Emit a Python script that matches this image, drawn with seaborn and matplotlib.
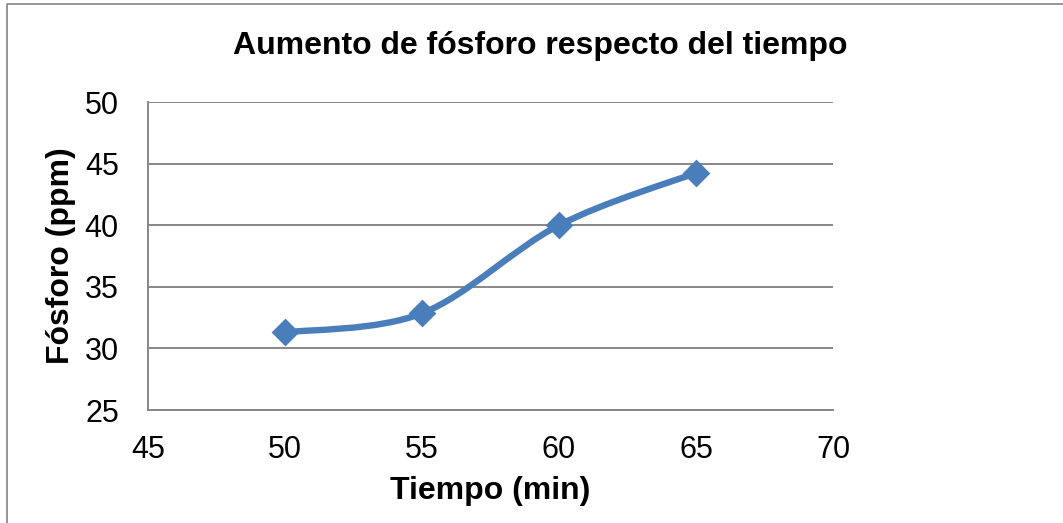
import numpy as np
import pandas as pd
import seaborn as sns
import matplotlib
matplotlib.use("Agg")
import matplotlib.pyplot as plt
from matplotlib.path import Path
from matplotlib.patches import PathPatch
from matplotlib.lines import Line2D

# Data
tiempo = [50, 55, 60, 65]
fosforo = [31.3, 32.85, 40.0, 44.25]
x_ticks = [45, 50, 55, 60, 65, 70]
y_ticks = [25, 30, 35, 40, 45, 50]
title = "Aumento de fósforo respecto del tiempo"
xlabel = "Tiempo (min)"
ylabel = "Fósforo (ppm)"

df = pd.DataFrame({"t": tiempo, "p": fosforo})

sns.set_theme(style="white")
plt.rcParams["font.family"] = ["Liberation Sans", "DejaVu Sans"]
plt.rcParams["text.color"] = "black"
plt.rcParams["axes.labelcolor"] = "black"

W, H = 1063, 523
fig = plt.figure(figsize=(W / 100, H / 100), dpi=100)
ax = fig.add_axes([148 / W, (H - 410) / H, (833 - 148) / W, (410 - 102) / H])

color = "#4A7EBB"
grid_c = "#878787"

# Smooth (Excel-style) curve via cubic Bezier path through the data points
xs = np.array(tiempo, dtype=float)
ys = np.array(fosforo, dtype=float)
verts = [(xs[0], ys[0])]
codes = [Path.MOVETO]
n = len(xs)
tension = 1.0 / 6.0
for i in range(n - 1):
    x0, y0 = (xs[i - 1], ys[i - 1]) if i > 0 else (xs[i], ys[i])
    x1, y1 = xs[i], ys[i]
    x2, y2 = xs[i + 1], ys[i + 1]
    x3, y3 = (xs[i + 2], ys[i + 2]) if i + 2 < n else (xs[i + 1], ys[i + 1])
    c1 = (x1 + (x2 - x0) * tension, y1 + (y2 - y0) * tension)
    c2 = (x2 - (x3 - x1) * tension, y2 - (y3 - y1) * tension)
    verts += [c1, c2, (x2, y2)]
    codes += [Path.CURVE4] * 3
patch = PathPatch(Path(verts, codes), facecolor="none", edgecolor=color,
                  lw=4.6, capstyle="round", joinstyle="round", zorder=3)
ax.add_patch(patch)

sns.scatterplot(data=df, x="t", y="p", marker="D", s=200, color=color,
                edgecolor=color, linewidth=0, ax=ax, zorder=4, legend=False)

ax.set_xlim(45, 70)
ax.set_ylim(25, 50)
ax.set_xticks(x_ticks)
ax.set_yticks(y_ticks)
ax.set_xticklabels([str(v) for v in x_ticks], fontsize=22)
ax.set_yticklabels([str(v) for v in y_ticks], fontsize=22)
ax.tick_params(axis="x", length=0, pad=18, colors="black")
ax.tick_params(axis="y", length=0, pad=21, colors="black")

ax.yaxis.grid(True, color=grid_c, linewidth=1.4)
ax.xaxis.grid(False)
ax.set_axisbelow(True)
for side in ["top", "right"]:
    ax.spines[side].set_visible(False)
for side in ["left", "bottom"]:
    ax.spines[side].set_color(grid_c)
    ax.spines[side].set_linewidth(1.4)

ax.set_xlabel(xlabel, fontsize=23, fontweight="bold", labelpad=8, color="black")
ax.set_ylabel(ylabel, fontsize=23, fontweight="bold", labelpad=6, color="black")

fig.text(540 / W, 1 - 46 / H, title, ha="center", va="center",
         fontsize=23, fontweight="bold", color="black")

# figure border (left and top visible)
fig.add_artist(Line2D([6.5 / W, 6.5 / W, 1.0], [0.0, 1 - 4 / H, 1 - 4 / H],
                      transform=fig.transFigure, color="#8c8c8c", lw=1.3))

fig.savefig("out.png", dpi=100)
